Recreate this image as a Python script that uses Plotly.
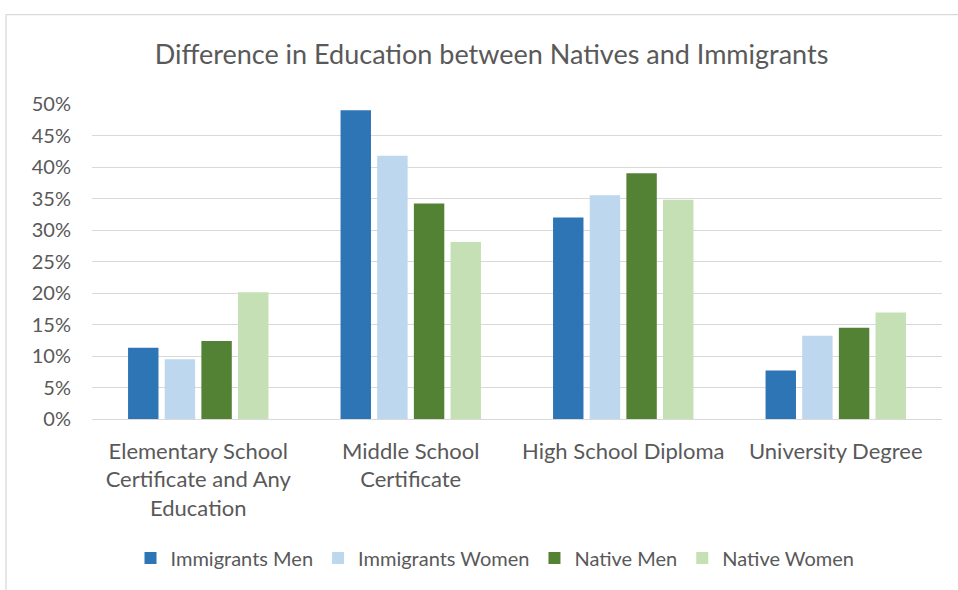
import plotly.graph_objects as go

categories = [
    "Elementary School<br>Certificate and Any<br>Education",
    "Middle School<br>Certificate",
    "High School Diploma",
    "University Degree",
]
series_names = ["Immigrants Men", "Immigrants Women", "Native Men", "Native Women"]
immigrants_men = [0.113, 0.490, 0.320, 0.077]
immigrants_women = [0.095, 0.418, 0.355, 0.132]
native_men = [0.124, 0.342, 0.390, 0.145]
native_women = [0.201, 0.281, 0.348, 0.169]
y_ticks = [0, 0.05, 0.10, 0.15, 0.20, 0.25, 0.30, 0.35, 0.40, 0.45, 0.50]

colors = ["#2E75B6", "#BDD7EE", "#548235", "#C5E0B4"]
text_color = "#595959"
font_family = "Lato, Open Sans, sans-serif"

fig = go.Figure()
for name, vals, col in zip(series_names,
                           [immigrants_men, immigrants_women, native_men, native_women],
                           colors):
    fig.add_trace(go.Bar(name=name, x=categories, y=vals,
                         marker=dict(color=col, line=dict(width=0))))

W, H = 958, 590
ml, mr, mt, mb = 92, 16, 104, 169
pw, ph = W - ml - mr, H - mt - mb

# outer chart frame (left and top edges visible)
x0 = (6 - ml) / pw
y1 = 1 + (mt - 14) / ph
fig.add_shape(type="line", xref="paper", yref="paper",
              x0=x0, x1=x0, y0=-(mb + 5) / ph, y1=y1,
              line=dict(color="#D9D9D9", width=1.3))
fig.add_shape(type="line", xref="paper", yref="paper",
              x0=x0, x1=1 + (mr + 5) / pw, y0=y1, y1=y1,
              line=dict(color="#D9D9D9", width=1.3))

fig.update_layout(
    width=W, height=H,
    margin=dict(l=ml, r=mr, t=mt, b=mb),
    paper_bgcolor="white", plot_bgcolor="white",
    barmode="group", bargap=0.31, bargroupgap=0.17,
    font=dict(family=font_family, color=text_color),
    title=dict(text="Difference in Education between Natives and Immigrants",
               x=(152 + 831) / 2 / W, xanchor="center",
               y=1 - 55 / H, yanchor="middle",
               font=dict(size=27, color=text_color, family=font_family)),
    yaxis=dict(range=[0, 0.5], tickvals=y_ticks, tickformat=".0%",
               showgrid=True, gridcolor="#D9D9D9", gridwidth=1.3,
               zeroline=False, showline=False, ticks="",
               tickfont=dict(size=20, color=text_color), ticklabelstandoff=20),
    xaxis=dict(showline=True, linecolor="#D9D9D9", linewidth=1.3,
               ticks="", tickfont=dict(size=22, color=text_color),
               ticklabelstandoff=12),
    legend=dict(orientation="h", x=(495 - ml) / pw, xanchor="center",
                y=-(561 - 421) / ph, yanchor="middle",
                font=dict(size=20, color=text_color),
                itemwidth=30, traceorder="normal"),
)

fig.write_html("out.html")
